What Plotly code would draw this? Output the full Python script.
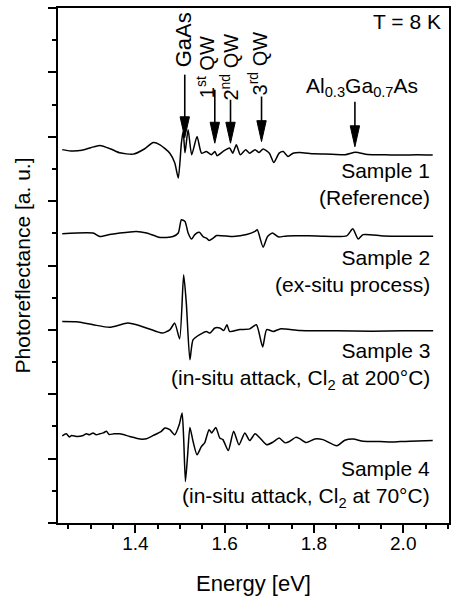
import plotly.graph_objects as go

# ---------------- data ----------------
energy_s1 = [1.236, 1.255, 1.28, 1.30, 1.320, 1.345, 1.365, 1.395, 1.42, 1.440, 1.455, 1.477,
             1.488, 1.496, 1.503, 1.507, 1.511, 1.518, 1.526, 1.538, 1.548, 1.559, 1.570, 1.578,
             1.583, 1.596, 1.611, 1.618, 1.626, 1.635, 1.647, 1.656, 1.668, 1.677, 1.686, 1.700,
             1.710, 1.722, 1.731, 1.742, 1.753, 1.768, 1.80, 1.84, 1.87, 1.893, 1.92, 1.96,
             2.00, 2.03, 2.066]
pr_s1 = [11.60, 11.56, 11.58, 11.66, 11.73, 11.62, 11.50, 11.46, 11.62, 11.82, 11.75, 11.49,
         11.19, 10.72, 11.81, 12.17, 11.50, 12.22, 11.44, 12.01, 11.49, 11.54, 11.44, 11.54,
         11.41, 11.54, 11.65, 11.49, 11.75, 11.44, 11.60, 11.49, 11.60, 11.51, 11.62, 11.49,
         11.20, 11.49, 11.54, 11.39, 11.49, 11.51, 11.47, 11.46, 11.44, 11.52, 11.45, 11.44,
         11.43, 11.44, 11.43]

energy_s2 = [1.236, 1.305, 1.320, 1.342, 1.365, 1.402, 1.425, 1.455, 1.484, 1.496, 1.503, 1.511,
             1.518, 1.526, 1.533, 1.543, 1.552, 1.559, 1.565, 1.574, 1.582, 1.619, 1.649, 1.668,
             1.673, 1.686, 1.696, 1.707, 1.720, 1.739, 1.806, 1.873, 1.887, 1.899, 1.910, 1.955,
             2.008, 2.067]
pr_s2 = [8.99, 9.01, 8.90, 8.96, 9.01, 9.06, 9.01, 8.87, 8.90, 9.01, 9.42, 9.37,
         9.01, 8.82, 8.96, 9.03, 8.89, 8.85, 8.78, 8.85, 8.93, 8.90, 8.96, 9.06,
         9.11, 8.57, 8.90, 9.01, 8.89, 8.92, 8.92, 8.92, 9.14, 8.82, 8.96, 8.92,
         8.91, 8.91]

energy_s3 = [1.236, 1.268, 1.305, 1.342, 1.383, 1.410, 1.447, 1.460, 1.477, 1.488, 1.499, 1.508,
             1.514, 1.522, 1.529, 1.544, 1.559, 1.567, 1.578, 1.589, 1.598, 1.605, 1.611, 1.634,
             1.656, 1.671, 1.685, 1.694, 1.709, 1.724, 1.768, 1.85, 1.93, 2.00, 2.067]
pr_s3 = [6.26, 6.25, 6.16, 6.08, 6.21, 6.13, 5.95, 5.90, 6.00, 6.21, 5.72, 7.71,
         6.83, 5.07, 5.69, 5.85, 5.95, 5.90, 6.06, 6.06, 5.98, 6.16, 5.95, 6.01,
         6.03, 6.16, 5.47, 6.01, 5.95, 6.03, 5.98, 5.97, 5.96, 5.97, 5.97]

energy_s4 = [1.236, 1.245, 1.252, 1.257, 1.268, 1.283, 1.290, 1.297, 1.305, 1.312, 1.320, 1.328,
             1.335, 1.341, 1.352, 1.365, 1.387, 1.410, 1.425, 1.440, 1.458, 1.466, 1.477, 1.488,
             1.498, 1.5045, 1.508, 1.512, 1.517, 1.522, 1.529, 1.538, 1.548, 1.555, 1.565, 1.571,
             1.580, 1.589, 1.596, 1.608, 1.620, 1.632, 1.645, 1.656, 1.668, 1.679, 1.694, 1.709,
             1.722, 1.735, 1.746, 1.759, 1.768, 1.783, 1.802, 1.820, 1.851, 1.869, 1.888, 1.910,
             1.948, 1.975, 1.993, 2.015, 2.066]
pr_s4 = [2.71, 2.77, 2.67, 2.72, 2.69, 2.72, 2.77, 2.74, 2.80, 2.74, 2.77, 2.80,
         2.85, 2.75, 2.77, 2.77, 2.69, 2.61, 2.62, 2.72, 2.85, 2.95, 2.90, 2.74,
         3.05, 3.42, 2.64, 1.29, 2.12, 2.97, 2.54, 2.12, 2.38, 2.49, 2.90, 2.80,
         2.97, 2.64, 2.59, 2.25, 2.85, 2.43, 2.80, 2.56, 2.77, 2.64, 2.43, 2.52,
         2.64, 2.49, 2.54, 2.66, 2.62, 2.50, 2.61, 2.59, 2.40, 2.57, 2.61, 2.54,
         2.53, 2.52, 2.53, 2.54, 2.56]

sample_labels = ["Sample 1<br>(Reference)",
                 "Sample 2<br>(ex-situ process)",
                 "Sample 3<br>(in-situ attack, Cl<sub>2</sub> at 200°C)",
                 "Sample 4<br>(in-situ attack, Cl<sub>2</sub> at 70°C)"]

x_tickvals = [1.4, 1.6, 1.8, 2.0]
x_ticktext = ["1.4", "1.6", "1.8", "2.0"]

# transition markers: label, energy
marker_labels = ["GaAs", "1<sup>st</sup> QW", "2<sup>nd</sup> QW", "3<sup>rd</sup> QW",
                 "Al<sub>0.3</sub>Ga<sub>0.7</sub>As"]
marker_energy = [1.5105, 1.5778, 1.613, 1.6825, 1.8917]

FONT = "Liberation Sans, Arial, Helvetica, sans-serif"

fig = go.Figure()
for xs, ys in [(energy_s1, pr_s1), (energy_s2, pr_s2), (energy_s3, pr_s3), (energy_s4, pr_s4)]:
    fig.add_trace(go.Scatter(x=xs, y=ys, mode="lines",
                             line=dict(color="black", width=1.5, shape="spline", smoothing=0.6),
                             showlegend=False))

ann = []
shapes = []
# sample labels
label_y = [10.53, 7.84, 4.89, 1.21]
for txt, yy in zip(sample_labels, label_y):
    ann.append(dict(x=2.064, y=yy, xref="x", yref="y", text=txt, showarrow=False,
                    xanchor="right", yanchor="middle", align="right",
                    font=dict(size=21, color="black", family=FONT)))

# arrows: shaft + narrow filled head
tails = [13.93, 13.46, 13.15, 13.25, 13.09]
tips = [11.97, 11.80, 11.80, 11.85, 11.69]
half_w = 0.0105   # eV
head_len = 0.65   # y units
for e, t0, t1 in zip(marker_energy, tails, tips):
    shapes.append(dict(type="line", xref="x", yref="y", x0=e, x1=e, y0=t0, y1=t1 + head_len * 0.5,
                       line=dict(color="black", width=1.6)))
    shapes.append(dict(type="path", xref="x", yref="y",
                       path=f"M {e - half_w},{t1 + head_len} L {e + half_w},{t1 + head_len} L {e},{t1} Z",
                       fillcolor="black", line=dict(color="black", width=1)))

# rotated marker labels (anchored at their lower end)
lab_x = [1.5067, 1.557, 1.6114, 1.673]
lab_y = [14.08, 13.12, 13.07, 13.23]
lab_size = [22, 20, 20, 20]
for txt, xx, yy, sz in zip(marker_labels[:4], lab_x, lab_y, lab_size):
    ann.append(dict(x=xx, y=yy, xref="x", yref="y", text=txt, showarrow=False,
                    textangle=-90, xanchor="center", yanchor="bottom",
                    font=dict(size=sz, color="black", family=FONT)))

ann.append(dict(x=1.9085, y=13.55, xref="x", yref="y", text=marker_labels[4], showarrow=False,
                xanchor="center", yanchor="middle",
                font=dict(size=21, color="black", family=FONT)))
ann.append(dict(x=2.089, y=15.57, xref="x", yref="y", text="T = 8 K", showarrow=False,
                xanchor="right", yanchor="middle",
                font=dict(size=21, color="black", family=FONT)))

fig.update_layout(
    width=453, height=596,
    margin=dict(l=58, r=4, t=8, b=73),
    paper_bgcolor="white", plot_bgcolor="white",
    font=dict(family=FONT, color="black", size=19),
    annotations=ann, shapes=shapes,
)
fig.update_xaxes(range=[1.2265, 2.1025], tickvals=x_tickvals, ticktext=x_ticktext,
                 ticks="outside", ticklen=8, tickwidth=1.5, tickcolor="black",
                 minor=dict(dtick=0.05, tick0=1.2, ticks="outside", ticklen=4,
                            tickwidth=1.5, tickcolor="black"),
                 showline=True, linewidth=1.5, linecolor="black", mirror=True,
                 showgrid=False, zeroline=False, automargin=False,
                 tickfont=dict(size=19, family=FONT, color="black"),
                 title=dict(text="Energy [eV]", font=dict(size=22, family=FONT, color="black"),
                            standoff=18))
try:
    fig.update_xaxes(ticklabelstandoff=-6)
    fig.update_xaxes(title_standoff=24)
except Exception:
    pass
fig.update_yaxes(range=[0, 16], dtick=2, tick0=0, showticklabels=False,
                 ticks="outside", ticklen=8, tickwidth=1.5, tickcolor="black",
                 minor=dict(dtick=1, ticks="outside", ticklen=4, tickwidth=1.5,
                            tickcolor="black"),
                 showline=True, linewidth=1.5, linecolor="black", mirror=True,
                 showgrid=False, zeroline=False, automargin=False,
                 title=dict(text="Photoreflectance [a. u.]",
                            font=dict(size=21, family=FONT, color="black"), standoff=12))

fig.write_html("out.html", config={"displayModeBar": False},
               post_script="document.body.style.margin='0';")
